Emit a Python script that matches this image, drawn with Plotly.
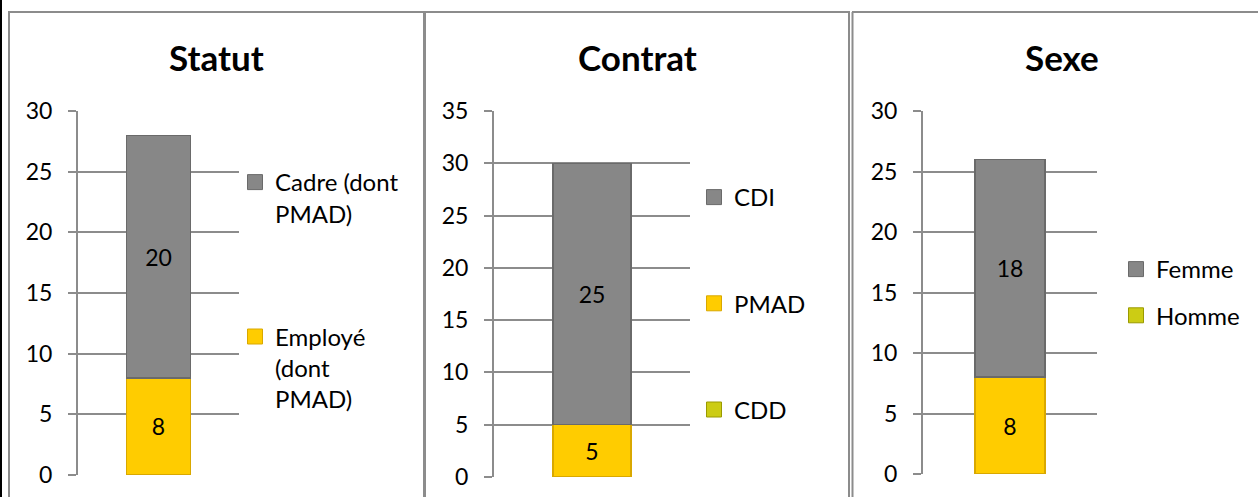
import plotly.graph_objects as go

W, H = 1258, 497

# ---------------- data ----------------
titles = ["Statut", "Contrat", "Sexe"]

statut_series = ["Employé (dont PMAD)", "Cadre (dont PMAD)"]
statut_values = [8, 20]
statut_legend = ["Cadre (dont<br>PMAD)", "Employé<br>(dont<br>PMAD)"]

contrat_series = ["CDD", "PMAD", "CDI"]
contrat_values = [0, 5, 25]
contrat_legend = ["CDI", "PMAD", "CDD"]

sexe_series = ["Homme", "Femme"]
sexe_values = [8, 18]
sexe_legend = ["Femme", "Homme"]

y_max = [30, 35, 30]

# ---------------- styles ----------------
GRAY = "#878787"
GRAY_EDGE = "#6a6a6a"
GOLD = "#FFCC00"
GOLD_EDGE = "#D9A800"
YG = "#CCCC14"
YG_EDGE = "#9a9a00"
GRID = "#8c8c8c"
FONT = "Lato, Open Sans, sans-serif"

bar_colors = [
    [GOLD, GRAY],
    [YG, GOLD, GRAY],
    [GOLD, GRAY],
]
bar_edges = [
    [GOLD_EDGE, GRAY_EDGE],
    [YG_EDGE, GOLD_EDGE, GRAY_EDGE],
    [GOLD_EDGE, GRAY_EDGE],
]
legend_colors = [
    [GRAY, GOLD],
    [GRAY, GOLD, YG],
    [GRAY, YG],
]
legend_edges = [
    [GRAY_EDGE, GOLD_EDGE],
    [GRAY_EDGE, GOLD_EDGE, YG_EDGE],
    [GRAY_EDGE, YG_EDGE],
]

def px_x(x):
    return x / W

def px_y(y):
    return 1 - y / H

# plot area pixel boxes (left, right, top, bottom)
areas = [(78, 239, 111, 475), (494, 690, 111, 477), (923, 1097, 111, 474)]
title_x = [216, 637, 1062]
legend_pos = [(235, 160), (694, 175), (1116, 247)]
legend_gap = [89, 72, 12]

series_all = [statut_series, contrat_series, sexe_series]
values_all = [statut_values, contrat_values, sexe_values]
legend_all = [statut_legend, contrat_legend, sexe_legend]

fig = go.Figure()

for i in range(3):
    xa = "x" if i == 0 else f"x{i+1}"
    ya = "y" if i == 0 else f"y{i+1}"
    lg = "legend" if i == 0 else f"legend{i+1}"
    for name, val, col, edge in zip(series_all[i], values_all[i], bar_colors[i], bar_edges[i]):
        fig.add_trace(go.Bar(
            x=[titles[i]], y=[val], name=name, xaxis=xa, yaxis=ya,
            width=0.4, showlegend=False,
            marker=dict(color=col, line=dict(color=edge, width=1.5)),
            text=[str(val) if val else ""], textposition="inside",
            insidetextanchor="middle", constraintext="none",
            textfont=dict(family=FONT, size=23, color="black"),
            hoverinfo="skip",
        ))
    for k, (lab, col, edge) in enumerate(zip(legend_all[i], legend_colors[i], legend_edges[i])):
        fig.add_trace(go.Scatter(
            x=[None], y=[None], xaxis=xa, yaxis=ya, mode="markers",
            name=lab, legend=lg, legendgroup=f"g{i}_{k}", showlegend=True,
            marker=dict(symbol="square", size=15, color=col, line=dict(color=edge, width=1)),
        ))

layout = dict(
    width=W, height=H, margin=dict(l=0, r=0, t=0, b=0, autoexpand=False),
    paper_bgcolor="white", plot_bgcolor="white",
    barmode="stack", font=dict(family=FONT, color="black"),
    showlegend=True,
)

for i in range(3):
    l, r, t, b = areas[i]
    xk = "xaxis" if i == 0 else f"xaxis{i+1}"
    yk = "yaxis" if i == 0 else f"yaxis{i+1}"
    xa = "x" if i == 0 else f"x{i+1}"
    layout[xk] = dict(domain=[px_x(l), px_x(r)], anchor=xa.replace("x", "y"),
                      showticklabels=False, showgrid=False, zeroline=False,
                      showline=False, range=[-0.5, 0.5], fixedrange=True,
                      automargin=False)
    layout[yk] = dict(domain=[px_y(b), px_y(t)], anchor=xa,
                      range=[0, y_max[i]], dtick=5, tick0=0,
                      showgrid=True, gridcolor=GRID, gridwidth=2,
                      zeroline=False, showline=True, linecolor=GRID, linewidth=2,
                      ticks="outside", ticklen=8, tickwidth=2, tickcolor=GRID,
                      ticklabelstandoff=11, automargin=False,
                      tickfont=dict(family=FONT, size=23, color="black"))
    lk = "legend" if i == 0 else f"legend{i+1}"
    lx, ly = legend_pos[i]
    layout[lk] = dict(x=px_x(lx), y=px_y(ly), xanchor="left", yanchor="top",
                      xref="paper", yref="paper", bgcolor="rgba(0,0,0,0)",
                      traceorder="grouped", tracegroupgap=legend_gap[i],
                      valign="top", font=dict(family=FONT, size=24, color="black"),
                      itemclick=False, itemdoubleclick=False)

fig.update_layout(**layout)

# titles
for i in range(3):
    fig.add_annotation(text=f"<b>{titles[i]}</b>", x=px_x(title_x[i]), y=px_y(57),
                       xref="paper", yref="paper", xanchor="center", yanchor="middle",
                       showarrow=False, font=dict(family=FONT, size=35, color="black"))

# panel frames
shapes = []
def line(x0, y0, x1, y1, color=GRID, width=2):
    shapes.append(dict(type="line", xref="paper", yref="paper",
                       x0=px_x(x0), y0=px_y(y0), x1=px_x(x1), y1=px_y(y1),
                       line=dict(color=color, width=width)))

line(1, 0, 1, H, color="black", width=2)
line(9, 12, 9, H)
line(8, 12, 424, 12)
line(424.5, 12, 424.5, H, width=3)
line(424, 12, 850, 12)
line(849, 12, 849, H)
line(852.5, 12, 852.5, H)
line(852, 12, W, 12)
fig.update_layout(shapes=shapes)

post = (
    "var gd=document.getElementById('{plot_id}');"
    "var els=[document.documentElement,document.body,gd.parentNode];"
    "els.forEach(function(e){e.style.margin='0';e.style.padding='0';"
    "e.style.overflow='hidden';e.style.height='497px';e.style.width='1258px';"
    "e.style.lineHeight='0';e.style.fontSize='0';});"
    "gd.style.position='absolute';gd.style.left='0px';gd.style.top='0px';"
    "window.scrollTo(0,0);"
)

fig.write_html("out.html", post_script=post, config={"displayModeBar": False})
